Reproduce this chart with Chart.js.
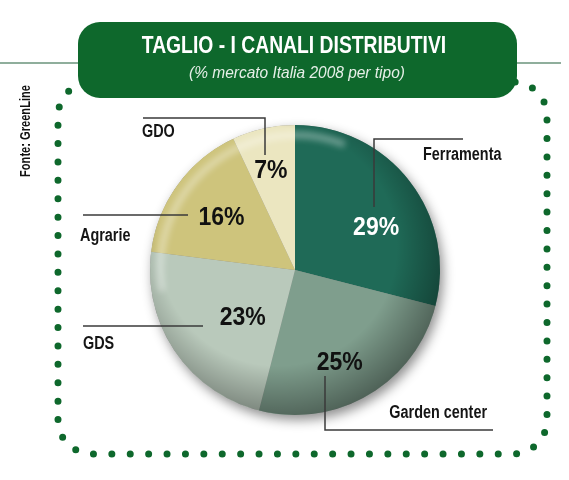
<!DOCTYPE html>
<html lang="it">
<head>
<meta charset="utf-8">
<title>Taglio - i canali distributivi</title>
<script src="https://cdn.jsdelivr.net/npm/chart.js@4/dist/chart.umd.min.js"></script>
<style>
  html, body { margin: 0; padding: 0; background: #ffffff; }
  #wrap { position: relative; width: 569px; height: 480px; }
</style>
</head>
<body>
<div id="wrap"><canvas id="pie"></canvas></div>
<script>
// Quote di mercato per canale distributivo (%)
const categories = ['Ferramenta', 'Garden center', 'GDS', 'Agrarie', 'GDO'];
const shares = [29, 25, 23, 16, 7];
const sliceColors = ['#1f6a57', '#7f9e8d', '#b9c9bb', '#cec47c', '#ebe6c0'];
const pctColors = ['#ffffff', '#111111', '#111111', '#111111', '#111111'];

const titleText = 'TAGLIO - I CANALI DISTRIBUTIVI';
const subtitleText = '(% mercato Italia 2008 per tipo)';
const sourceText = 'Fonte: GreenLine';

const GREEN = '#0e682c';
const SANS = "'Liberation Sans', Arial, sans-serif";

// Percent label placement: angle nudge (deg) from slice middle, radius fraction
const pctPlacement = [
  { nudge: 10.4, rf: 0.63 },
  { nudge: 4.8, rf: 0.71 },
  { nudge: -8.5, rf: 0.49 },
  { nudge: -0.9, rf: 0.62 },
  { nudge: -1.2, rf: 0.70 }
];

// Leader lines and category names, offsets from the pie centre
const callouts = [
  { path: [[79, -63], [79, -131], [168, -131]], text: [128, -115], align: 'left' },
  { path: [[30, 106], [30, 160], [198, 160]], text: [192, 143], align: 'right' },
  { path: [[-212, 56], [-92, 56]], text: [-212, 74], align: 'left' },
  { path: [[-212, -55], [-107, -55]], text: [-215, -34], align: 'left' },
  { path: [[-152, -152], [-30, -152], [-30, -115]], text: [-153, -138], align: 'left' }
];

// Condensed text: ordinary face squeezed horizontally
function narrowText(ctx, text, x, y, font, sx, align) {
  ctx.save();
  ctx.font = font;
  ctx.textAlign = align;
  ctx.textBaseline = 'middle';
  ctx.translate(x, y);
  ctx.scale(sx, 1);
  ctx.fillText(text, 0, 0);
  ctx.restore();
}

function roundRectPath(ctx, x, y, w, h, r) {
  ctx.beginPath();
  ctx.moveTo(x + r, y);
  ctx.lineTo(x + w - r, y);
  ctx.arcTo(x + w, y, x + w, y + r, r);
  ctx.lineTo(x + w, y + h - r);
  ctx.arcTo(x + w, y + h, x + w - r, y + h, r);
  ctx.lineTo(x + r, y + h);
  ctx.arcTo(x, y + h, x, y + h - r, r);
  ctx.lineTo(x, y + r);
  ctx.arcTo(x, y, x + r, y, r);
  ctx.closePath();
}

// Frame, header band and source note
const framePlugin = {
  id: 'frame',
  beforeDraw(chart) {
    const ctx = chart.ctx;
    ctx.save();
    // dotted frame
    ctx.strokeStyle = GREEN;
    ctx.lineWidth = 7;
    ctx.lineCap = 'round';
    ctx.setLineDash([0, 18.4]);
    roundRectPath(ctx, 58, 82, 489, 372, 34);
    ctx.stroke();
    ctx.setLineDash([]);

    // thin rule behind the header
    ctx.strokeStyle = '#8fae9c';
    ctx.lineWidth = 2;
    ctx.lineCap = 'butt';
    ctx.beginPath();
    ctx.moveTo(0, 63); ctx.lineTo(80, 63);
    ctx.moveTo(515, 63); ctx.lineTo(561, 63);
    ctx.stroke();

    // header box
    ctx.fillStyle = GREEN;
    roundRectPath(ctx, 78, 22, 439, 76, 22);
    ctx.fill();

    ctx.fillStyle = '#ffffff';
    narrowText(ctx, titleText, 294, 47, 'bold 23px ' + SANS, 0.84, 'center');
    ctx.fillStyle = '#e6efe8';
    narrowText(ctx, subtitleText, 297, 73, 'italic 17px ' + SANS, 0.91, 'center');

    // source, rotated
    ctx.save();
    ctx.translate(26, 131);
    ctx.rotate(-Math.PI / 2);
    ctx.fillStyle = '#111111';
    narrowText(ctx, sourceText, 0, 0, 'bold 15px ' + SANS, 0.74, 'center');
    ctx.restore();
    ctx.restore();
  }
};

// Drop shadow and rim shading of the disc
const shadePlugin = {
  id: 'shade',
  beforeDatasetsDraw(chart) {
    const arc = chart.getDatasetMeta(0).data[0];
    if (!arc) return;
    const { x, y, outerRadius: r } = arc.getProps(['x', 'y', 'outerRadius'], true);
    const ctx = chart.ctx;
    ctx.save();
    ctx.shadowColor = 'rgba(0,0,0,0.45)';
    ctx.shadowBlur = 12;
    ctx.shadowOffsetX = 3;
    ctx.shadowOffsetY = 5;
    ctx.fillStyle = '#888888';
    ctx.beginPath();
    ctx.arc(x, y, r, 0, Math.PI * 2);
    ctx.fill();
    ctx.restore();
  },
  afterDatasetsDraw(chart) {
    const arc = chart.getDatasetMeta(0).data[0];
    if (!arc) return;
    const { x, y, outerRadius: r } = arc.getProps(['x', 'y', 'outerRadius'], true);
    const ctx = chart.ctx;
    ctx.save();
    ctx.beginPath();
    ctx.arc(x, y, r, 0, Math.PI * 2);
    ctx.clip();
    const g = ctx.createRadialGradient(x - r * 0.12, y - r * 0.16, r * 0.82, x - r * 0.12, y - r * 0.16, r * 1.2);
    g.addColorStop(0, 'rgba(0,0,0,0)');
    g.addColorStop(1, 'rgba(0,0,0,0.38)');
    ctx.fillStyle = g;
    ctx.fillRect(x - r, y - r, 2 * r, 2 * r);
    // soft highlight along the upper-left rim
    ctx.strokeStyle = 'rgba(255,255,255,0.35)';
    ctx.lineWidth = 7;
    ctx.filter = 'blur(3px)';
    ctx.beginPath();
    ctx.arc(x, y, r * 0.93, Math.PI * 0.95, Math.PI * 1.62);
    ctx.stroke();
    ctx.restore();
  }
};

// Percent values and callouts
const labelPlugin = {
  id: 'callouts',
  afterDatasetsDraw(chart) {
    const meta = chart.getDatasetMeta(0);
    const ctx = chart.ctx;
    const values = chart.data.datasets[0].data;
    const first = meta.data[0].getProps(['x', 'y'], true);
    const cx = first.x, cy = first.y;
    ctx.save();
    meta.data.forEach((el, i) => {
      const p = el.getProps(['x', 'y', 'startAngle', 'endAngle', 'outerRadius'], true);
      const a = (p.startAngle + p.endAngle) / 2 + pctPlacement[i].nudge * Math.PI / 180;
      const rr = p.outerRadius * pctPlacement[i].rf;
      ctx.fillStyle = pctColors[i];
      narrowText(ctx, values[i] + '%', p.x + Math.cos(a) * rr, p.y + Math.sin(a) * rr,
        'bold 25px ' + SANS, 0.92, 'center');

      const c = callouts[i];
      ctx.strokeStyle = '#3a3a3a';
      ctx.lineWidth = 1.5;
      ctx.beginPath();
      c.path.forEach((pt, k) => {
        if (k === 0) ctx.moveTo(cx + pt[0], cy + pt[1]);
        else ctx.lineTo(cx + pt[0], cy + pt[1]);
      });
      ctx.stroke();
      ctx.fillStyle = '#151515';
      narrowText(ctx, chart.data.labels[i], cx + c.text[0], cy + c.text[1],
        'bold 18px ' + SANS, 0.8, c.align);
    });
    ctx.restore();
  }
};

new Chart(document.getElementById('pie'), {
  type: 'pie',
  data: {
    labels: categories,
    datasets: [{
      data: shares,
      backgroundColor: sliceColors,
      borderWidth: 0
    }]
  },
  options: {
    responsive: true,
    maintainAspectRatio: false,
    animation: false,
    layout: { padding: { left: 150, right: 129, top: 125, bottom: 65 } },
    plugins: {
      legend: { display: false },
      tooltip: { enabled: false },
      title: { display: false }
    }
  },
  plugins: [framePlugin, shadePlugin, labelPlugin]
});
</script>
</body>
</html>
